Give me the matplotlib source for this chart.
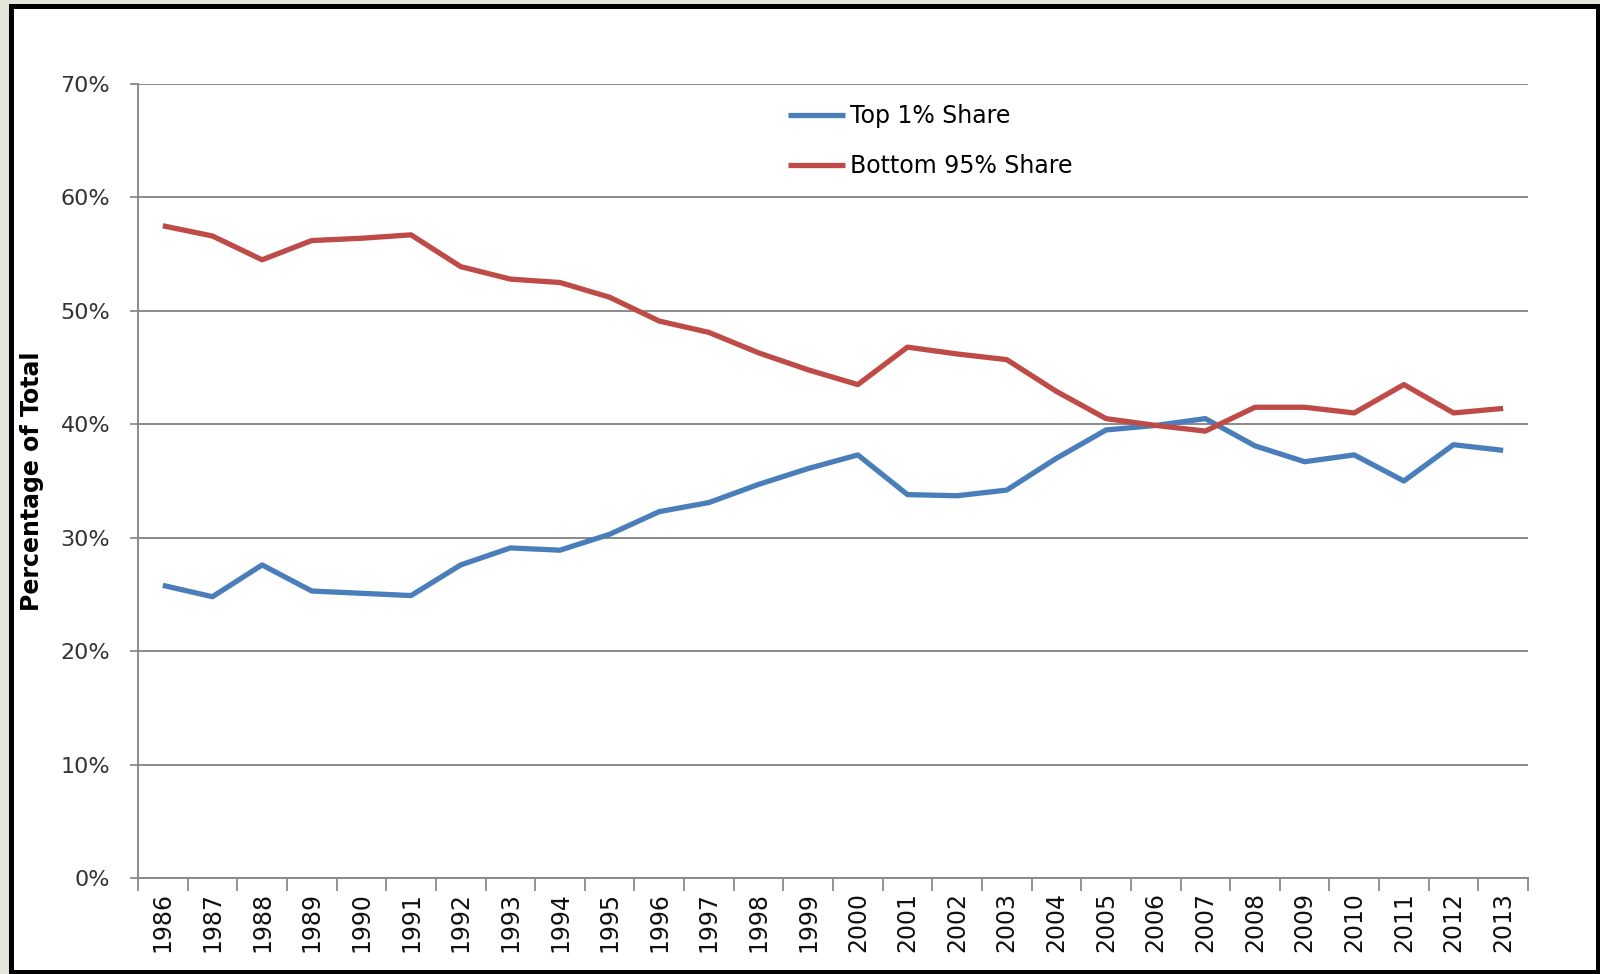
import numpy as np
import matplotlib
matplotlib.use("Agg")
import matplotlib.pyplot as plt
from matplotlib.patches import Rectangle
from matplotlib.ticker import FixedLocator, PercentFormatter

years = list(range(1986, 2014))

# share of total, percent
top1_share = [25.8, 24.8, 27.6, 25.3, 25.1, 24.9, 27.6, 29.1, 28.9, 30.3,
              32.3, 33.1, 34.7, 36.1, 37.3, 33.8, 33.7, 34.2, 37.0, 39.5,
              39.9, 40.5, 38.1, 36.7, 37.3, 35.0, 38.2, 37.7]
bottom95_share = [57.5, 56.6, 54.5, 56.2, 56.4, 56.7, 53.9, 52.8, 52.5, 51.2,
                  49.1, 48.1, 46.3, 44.8, 43.5, 46.8, 46.2, 45.7, 42.9, 40.5,
                  39.9, 39.4, 41.5, 41.5, 41.0, 43.5, 41.0, 41.4]

y_ticks = [0, 10, 20, 30, 40, 50, 60, 70]

blue = "#4a7ebb"
red = "#be4b48"
grid_col = "#8a8a8a"

W, H = 1600, 974
fig = plt.figure(figsize=(W / 100, H / 100), dpi=100, facecolor="#e4e4dc")

# white panel with a thick black frame
fig.add_artist(Rectangle((10.5 / W, 2.5 / H), 1587 / W, (971.5 - 5.5) / H,
                         transform=fig.transFigure, facecolor="white",
                         edgecolor="black", linewidth=3.6, zorder=0))

ax = fig.add_axes([138 / W, 1 - 878 / H, 1390 / W, (878 - 84) / H])
ax.set_facecolor("none")

x = np.arange(len(years)) + 0.5
ax.plot(x, top1_share, color=blue, lw=3.8, label="Top 1% Share",
        solid_joinstyle="round", solid_capstyle="butt", zorder=3)
ax.plot(x, bottom95_share, color=red, lw=3.8, label="Bottom 95% Share",
        solid_joinstyle="round", solid_capstyle="butt", zorder=3)

ax.set_xlim(0, len(years))
ax.set_ylim(0, 70)

ax.set_yticks(y_ticks)
ax.yaxis.set_major_formatter(PercentFormatter(decimals=0))
ax.grid(axis="y", color=grid_col, lw=1.4)
ax.set_axisbelow(True)

ax.set_xticks(x)
ax.set_xticklabels([str(y) for y in years], rotation=90, fontsize=17,
                   color="#111111")
ax.xaxis.set_minor_locator(FixedLocator(np.arange(len(years) + 1)))
ax.tick_params(axis="x", which="major", length=0, pad=10)
ax.tick_params(axis="x", which="minor", length=9, width=1.3, color=grid_col)
ax.tick_params(axis="y", length=6, width=1.3, color=grid_col, pad=14,
               labelsize=16, labelcolor="#333333")

for side in ("top", "right"):
    ax.spines[side].set_visible(False)
for side in ("left", "bottom"):
    ax.spines[side].set_color(grid_col)
    ax.spines[side].set_linewidth(1.4)

ax.set_ylabel("Percentage of Total", fontsize=17, fontweight="bold",
              labelpad=12)

ax.legend(loc="upper left", bbox_to_anchor=(0.4525, 1.001), frameon=False,
          fontsize=17, handlelength=2.4, handletextpad=0.2,
          labelspacing=1.1)

fig.savefig("out.png", dpi=100, facecolor=fig.get_facecolor())
